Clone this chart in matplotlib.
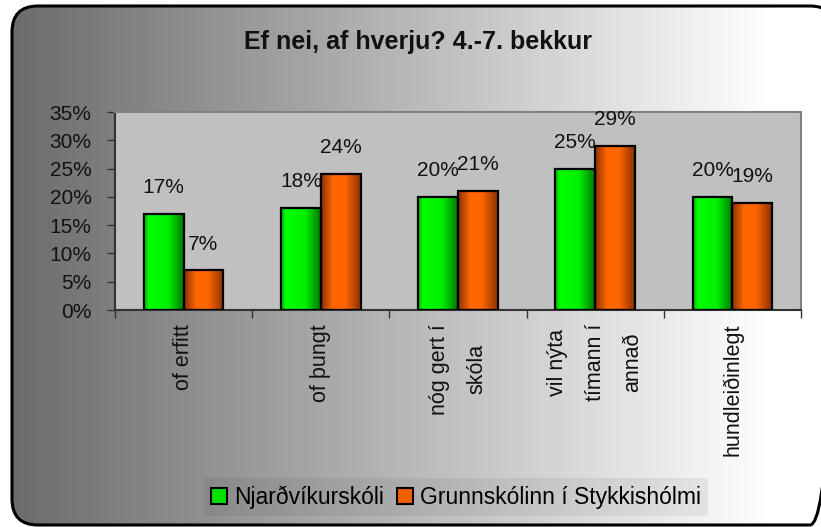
import matplotlib
matplotlib.use("Agg")
import matplotlib.pyplot as plt
import numpy as np
from matplotlib.patches import FancyBboxPatch, Rectangle
from matplotlib.colors import LinearSegmentedColormap

plt.rcParams['font.family'] = ['Liberation Sans', 'DejaVu Sans']

# Gögn
categories = ["of erfitt", "of þungt", "nóg gert í\nskóla", "vil nýta\ntímann í\nannað", "hundleiðinlegt"]
series_names = ["Njarðvíkurskóli", "Grunnskólinn í Stykkishólmi"]
njardvik = [17, 18, 20, 25, 20]
stykkisholmur = [7, 24, 21, 29, 19]
yticks = [0, 5, 10, 15, 20, 25, 30, 35]
title = "Ef nei, af hverju? 4.-7. bekkur"

W, H = 821, 527
fig = plt.figure(figsize=(W / 100, H / 100), dpi=100)
fig.patch.set_facecolor("white")

# Bakgrunnur með halla og rúnnuðum ramma
bg = fig.add_axes([0, 0, 1, 1])
bg.axis("off")
grad = np.clip((np.arange(W) - 12) / (775 - 12), 0, 1)
grad = 0.42 + 0.58 * grad
img = np.tile(grad, (H, 1))
im = bg.imshow(img, cmap="gray", vmin=0, vmax=1, extent=(0, W, H, 0), aspect="auto", zorder=1)
r = 26
frame = FancyBboxPatch((12 + r, 6 + r), 836 - 12 - 2 * r, 525 - 6 - 2 * r,
                       boxstyle=f"round,pad={r}", facecolor="none",
                       edgecolor="black", linewidth=2.2, zorder=3)
bg.add_patch(frame)
bg.set_xlim(0, W)
bg.set_ylim(H, 0)
im.set_clip_path(frame)

# Teiknisvæði
ax = fig.add_axes([115 / W, (H - 310) / H, (801 - 115) / W, 198 / H])
ax.set_facecolor("#c0c0c0")

green_cmap = LinearSegmentedColormap.from_list(
    "g", [(0, "#00b400"), (0.12, "#00ff00"), (0.6, "#00f000"), (1, "#007a00")])
orange_cmap = LinearSegmentedColormap.from_list(
    "o", [(0, "#8c3200"), (0.3, "#ff6600"), (0.6, "#ff6600"), (1, "#8c3200")])

x = np.arange(len(categories))
bw = 0.29
for vals, off, cmap in [(njardvik, -bw / 2, green_cmap), (stykkisholmur, bw / 2, orange_cmap)]:
    bars = ax.bar(x + off, vals, bw, facecolor="none", edgecolor="black", linewidth=1.6, zorder=3)
    for b, v in zip(bars, vals):
        x0 = b.get_x()
        gi = ax.imshow(np.linspace(0, 1, 64).reshape(1, -1), cmap=cmap, aspect="auto",
                       extent=(x0, x0 + bw, 0, v), zorder=2, interpolation="bilinear")
        gi.set_clip_path(b)
        ax.annotate(f"{v}%", (x0 + bw / 2, v), xytext=(0, 19), textcoords="offset points",
                    ha="center", va="center", fontsize=15, color="#111111", zorder=4)

ax.set_xlim(-0.5, len(categories) - 0.5)
ax.set_ylim(0, 35)
ax.set_yticks(yticks)
ax.set_yticklabels([f"{t}%" for t in yticks], fontsize=15, color="#111111")
ax.set_xticks(np.arange(len(categories) + 1) - 0.5)
ax.set_xticklabels([])
ax.tick_params(axis="both", direction="out", length=6, width=1, color="#333333")
ax.tick_params(axis="y", pad=11)
for s in ["top", "right"]:
    ax.spines[s].set_color("#808080")
    ax.spines[s].set_linewidth(1.5)
for s in ["left", "bottom"]:
    ax.spines[s].set_color("#333333")
    ax.spines[s].set_linewidth(1.5)

for i, c in enumerate(categories):
    ax.text(i, -0.07, c, transform=ax.get_xaxis_transform(), rotation=90,
            ha="center", va="top", multialignment="center", fontsize=15.5,
            color="#111111", linespacing=2.05)

fig.text(418 / W, 1 - 42 / H, title, ha="center", va="center",
         fontsize=18, fontweight="bold", color="#111111")

# Skýringar
handles = [Rectangle((0, 0), 1, 1, facecolor="#00e000", edgecolor="black", linewidth=1.5),
           Rectangle((0, 0), 1, 1, facecolor="#ee5f00", edgecolor="black", linewidth=1.5)]
leg = fig.legend(handles, series_names, loc="center", bbox_to_anchor=(456 / W, 1 - 497 / H),
                 ncol=2, fontsize=16.5, frameon=True, fancybox=False, handlelength=0.7,
                 handleheight=0.7, handletextpad=0.3, columnspacing=0.6, borderpad=0.3,
                 borderaxespad=0, facecolor="black", framealpha=0.06, edgecolor="none")

fig.savefig("out.png", dpi=100)
